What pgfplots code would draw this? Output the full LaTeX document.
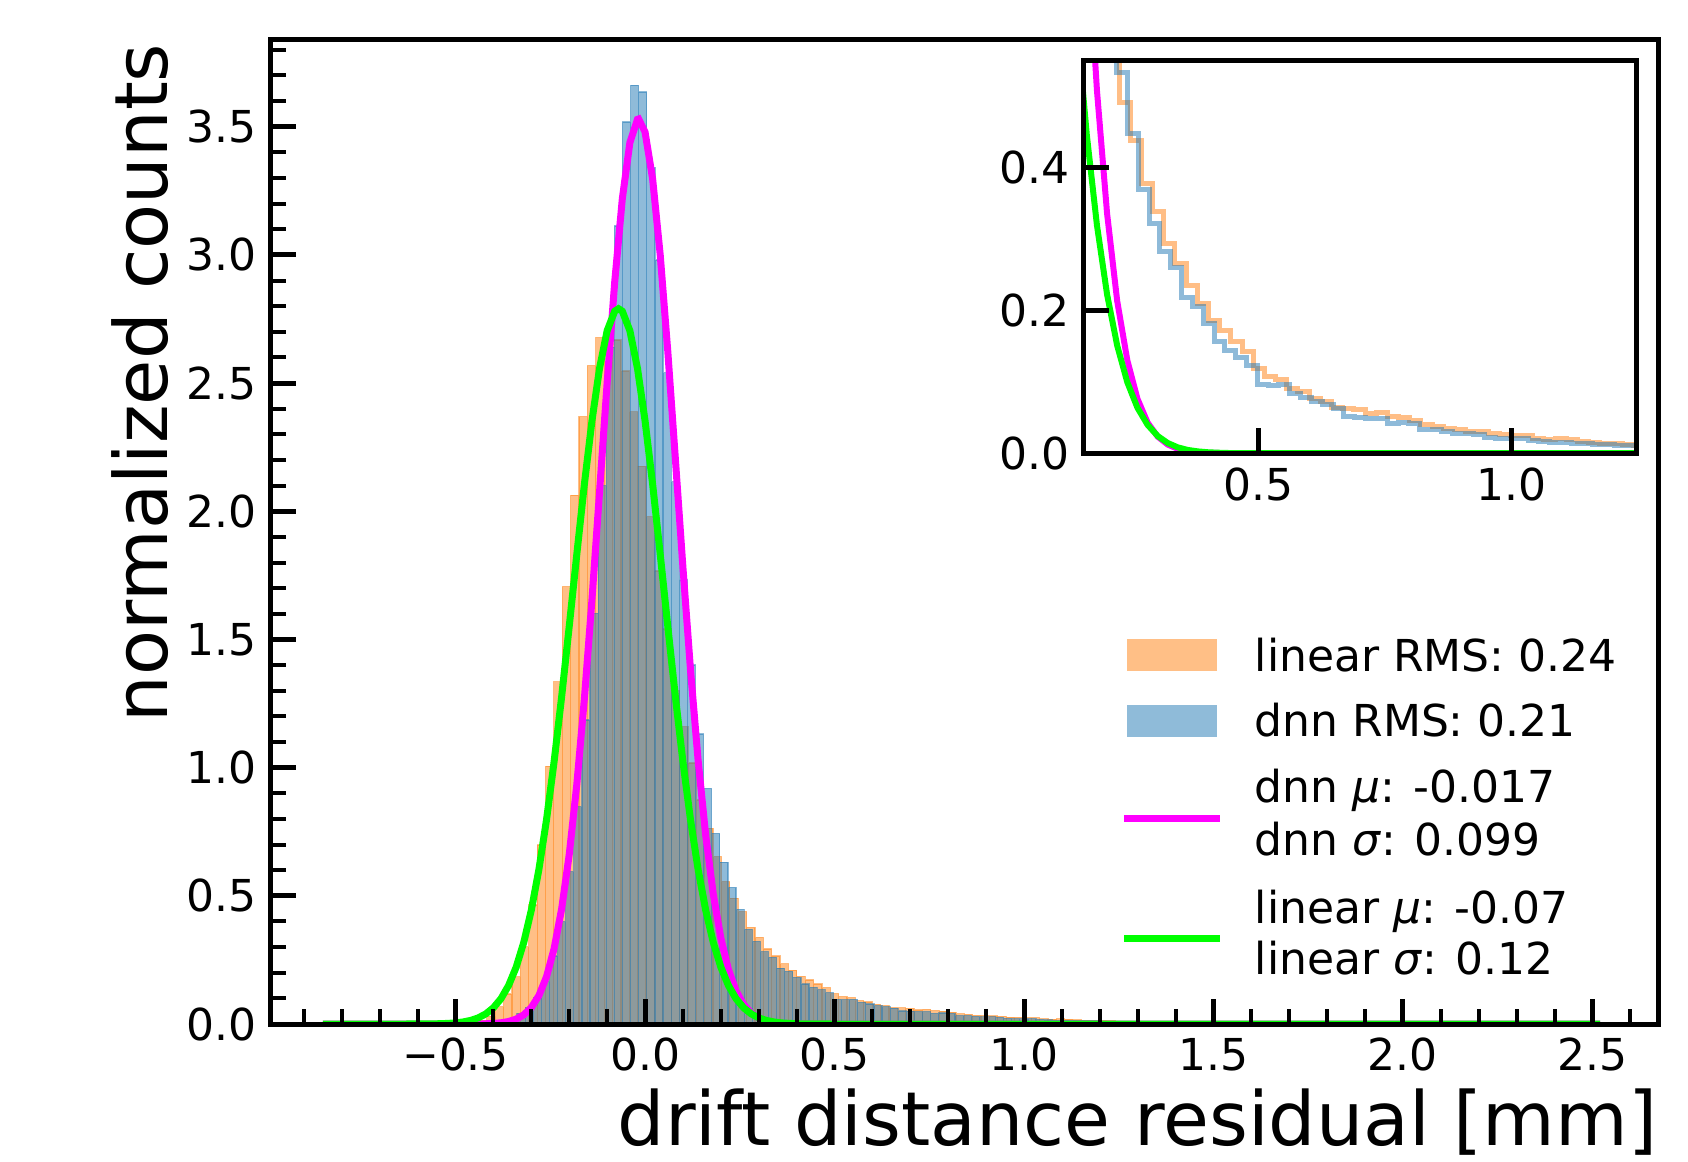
\documentclass[border=0pt]{standalone}
\usepackage{fontspec}
\setmainfont{DejaVu Sans}
\usepackage{pgfplots}
\usepackage{pgfplotstable}
\pgfplotsset{compat=1.18}

\definecolor{mplorange}{HTML}{FF7F0E}
\definecolor{mplblue}{HTML}{1F77B4}
\definecolor{fitdnn}{HTML}{FF00FF}
\definecolor{fitlin}{HTML}{00FF00}

\newcommand{\tickfont}{\fontsize{11}{12.9}\selectfont}
\newcommand{\labelfont}{\fontsize{18.4}{22}\selectfont}
\newcommand{\xlabelfont}{\fontsize{18.65}{22}\selectfont}

% histograms: left bin edge, normalized count
\pgfplotstableread{
x y
-0.5057 0.002
-0.4836 0.004
-0.4615 0.008
-0.4394 0.015
-0.4173 0.030
-0.3952 0.067
-0.3731 0.117
-0.3510 0.184
-0.3289 0.301
-0.3068 0.464
-0.2847 0.698
-0.2626 1.006
-0.2405 1.335
-0.2184 1.706
-0.1963 2.063
-0.1742 2.369
-0.1521 2.568
-0.1300 2.677
-0.1079 2.660
-0.0858 2.668
-0.0637 2.547
-0.0416 2.388
-0.0195 2.176
0.0026 1.979
0.0247 1.767
0.0468 1.541
0.0689 1.300
0.0910 1.160
0.1131 1.018
0.1352 0.874
0.1573 0.764
0.1794 0.653
0.2015 0.555
0.2236 0.491
0.2457 0.438
0.2678 0.377
0.2899 0.338
0.3120 0.293
0.3341 0.265
0.3562 0.235
0.3783 0.210
0.4004 0.186
0.4225 0.172
0.4446 0.156
0.4667 0.142
0.4888 0.119
0.5109 0.107
0.5330 0.103
0.5551 0.091
0.5772 0.086
0.5993 0.077
0.6214 0.072
0.6435 0.064
0.6656 0.063
0.6877 0.061
0.7098 0.055
0.7319 0.057
0.7540 0.052
0.7761 0.050
0.7982 0.046
0.8203 0.040
0.8424 0.038
0.8645 0.034
0.8866 0.033
0.9087 0.031
0.9308 0.030
0.9529 0.027
0.9750 0.026
0.9971 0.025
1.0192 0.025
1.0413 0.020
1.0634 0.019
1.0855 0.020
1.1076 0.019
1.1297 0.016
1.1518 0.015
1.1739 0.014
1.1960 0.014
1.2181 0.012
1.2402 0.011
1.2623 0.010
1.2844 0.009
1.3065 0.008
1.3286 0.008
1.3507 0.007
1.3728 0.006
1.3949 0.005
1.4170 0.005
1.4391 0.004
1.4612 0.003
1.4833 0
}\linhist

\pgfplotstableread{
x y
-0.4447 0.001
-0.4233 0.003
-0.4019 0.006
-0.3805 0.012
-0.3591 0.023
-0.3377 0.042
-0.3163 0.065
-0.2949 0.104
-0.2735 0.165
-0.2521 0.265
-0.2307 0.399
-0.2093 0.594
-0.1879 0.848
-0.1665 1.186
-0.1451 1.602
-0.1237 2.100
-0.1023 2.640
-0.0809 3.113
-0.0595 3.518
-0.0381 3.662
-0.0167 3.635
0.0047 3.340
0.0261 2.980
0.0475 2.540
0.0689 2.115
0.0903 1.732
0.1117 1.400
0.1331 1.131
0.1545 0.919
0.1759 0.744
0.1973 0.631
0.2187 0.533
0.2401 0.447
0.2615 0.369
0.2829 0.322
0.3043 0.282
0.3257 0.260
0.3471 0.218
0.3685 0.205
0.3899 0.182
0.4113 0.156
0.4327 0.143
0.4541 0.134
0.4755 0.122
0.4969 0.096
0.5183 0.095
0.5397 0.096
0.5611 0.084
0.5825 0.078
0.6039 0.072
0.6253 0.068
0.6467 0.062
0.6681 0.051
0.6895 0.050
0.7109 0.048
0.7323 0.048
0.7537 0.042
0.7751 0.043
0.7965 0.042
0.8179 0.033
0.8393 0.033
0.8607 0.030
0.8821 0.028
0.9035 0.028
0.9249 0.026
0.9463 0.022
0.9677 0.021
0.9891 0.021
1.0105 0.021
1.0319 0.018
1.0533 0.016
1.0747 0.015
1.0961 0.015
1.1175 0.014
1.1389 0.013
1.1603 0.012
1.1817 0.012
1.2031 0.011
1.2245 0.011
1.2459 0.010
1.2673 0.009
1.2887 0.008
1.3101 0.008
1.3315 0.007
1.3529 0.006
1.3743 0.006
1.3957 0.005
1.4171 0.005
1.4385 0.004
1.4599 0.004
1.4813 0
}\dnnhist

% gaussian fits
\pgfplotstableread{
x y
-0.85 0
-0.50 0
-0.44 0.0003
-0.42 0.0010
-0.40 0.0023
-0.38 0.0049
-0.36 0.0098
-0.34 0.0192
-0.32 0.0358
-0.30 0.0644
-0.28 0.1111
-0.26 0.1844
-0.24 0.2938
-0.22 0.4497
-0.20 0.6614
-0.18 0.9351
-0.16 1.2697
-0.14 1.6567
-0.12 2.0768
-0.10 2.5013
-0.08 2.8946
-0.06 3.2183
-0.04 3.4379
-0.02 3.5284
-0.017 3.53
0.00 3.4794
0.02 3.2965
0.04 3.0007
0.06 2.6244
0.08 2.2052
0.10 1.7804
0.12 1.3810
0.14 1.0293
0.16 0.7370
0.18 0.5070
0.20 0.3351
0.22 0.2128
0.24 0.1299
0.26 0.0761
0.28 0.0429
0.30 0.0232
0.32 0.0121
0.34 0.0060
0.36 0.0029
0.38 0.0013
0.40 0.0006
0.42 0.0003
0.50 0
2.52 0
}\dnnfit

\pgfplotstableread{
x y
-0.85 0
-0.66 0
-0.60 0.0002
-0.58 0.0003
-0.56 0.0007
-0.54 0.0013
-0.52 0.0025
-0.50 0.0045
-0.48 0.0081
-0.46 0.0142
-0.44 0.0241
-0.42 0.0397
-0.40 0.0636
-0.38 0.0991
-0.36 0.1505
-0.34 0.2220
-0.32 0.3186
-0.30 0.4445
-0.28 0.6034
-0.26 0.7966
-0.24 1.0228
-0.22 1.2773
-0.20 1.5516
-0.18 1.8329
-0.16 2.1060
-0.14 2.3535
-0.12 2.5580
-0.10 2.7042
-0.08 2.7803
-0.07 2.79
-0.06 2.7803
-0.04 2.7042
-0.02 2.5580
0.00 2.3535
0.02 2.1060
0.04 1.8329
0.06 1.5516
0.08 1.2773
0.10 1.0228
0.12 0.7966
0.14 0.6034
0.16 0.4445
0.18 0.3186
0.20 0.2220
0.22 0.1505
0.24 0.0991
0.26 0.0636
0.28 0.0397
0.30 0.0241
0.32 0.0142
0.34 0.0081
0.36 0.0045
0.38 0.0025
0.40 0.0013
0.42 0.0007
0.44 0.0003
0.46 0.0002
0.52 0
2.52 0
}\linfit

\pgfplotsset{
  resaxis/.style={
    scale only axis,
    axis on top,
    axis line style={line width=1.25pt},
    tick align=inside,
    tick pos=left,
    major tick length=6.25pt,
    minor tick length=3.75pt,
    major tick style={line width=1.25pt, black},
    minor tick style={line width=1pt, black},
    ticklabel style={font=\tickfont},
  },
}

\begin{document}
\begin{tikzpicture}
\begin{axis}[
  resaxis,
  name=main,
  at={(0,0)}, anchor=south west,
  width=346.75pt, height=246.25pt,
  xmin=-0.987, xmax=2.673,
  ymin=0, ymax=3.842,
  xtick={-0.5,0,0.5,1,1.5,2,2.5},
  xticklabels={−0.5,0.0,0.5,1.0,1.5,2.0,2.5},
  minor xtick={-0.9,-0.8,-0.7,-0.6,-0.4,-0.3,-0.2,-0.1,0.1,0.2,0.3,0.4,0.6,0.7,0.8,0.9,1.1,1.2,1.3,1.4,1.6,1.7,1.8,1.9,2.1,2.2,2.3,2.4,2.6},
  ytick={0,0.5,1,1.5,2,2.5,3,3.5},
  yticklabels={0.0,0.5,1.0,1.5,2.0,2.5,3.0,3.5},
  minor ytick={0.1,0.2,0.3,0.4,0.6,0.7,0.8,0.9,1.1,1.2,1.3,1.4,1.6,1.7,1.8,1.9,2.1,2.2,2.3,2.4,2.6,2.7,2.8,2.9,3.1,3.2,3.3,3.4,3.6,3.7,3.8},
  xlabel={drift distance residual [mm]},
  ylabel={normalized counts},
  every axis x label/.style={at={(rel axis cs:1,-0.0995)}, anchor=east, font=\xlabelfont, inner sep=0pt},
  every axis y label/.style={at={(rel axis cs:-0.0944,0.996)}, rotate=90, anchor=east, font=\labelfont, inner sep=0pt},
]
\addplot[ybar interval, fill=mplorange, fill opacity=0.5, draw=mplorange, draw opacity=0.5, line width=0.3pt]
  table {\linhist};
\addplot[ybar interval, fill=mplblue, fill opacity=0.5, draw=mplblue, draw opacity=0.5, line width=0.3pt]
  table {\dnnhist};
\addplot[fitdnn, line width=1.75pt] table {\dnnfit};
\addplot[fitlin, line width=1.75pt] table {\linfit};

% legend
\fill[mplorange, fill opacity=0.5] (rel axis cs:0.6172,0.3746) ++(0pt,-4pt) rectangle ++(22.5pt,8pt);
\fill[mplblue, fill opacity=0.5] (rel axis cs:0.6172,0.3078) ++(0pt,-4pt) rectangle ++(22.5pt,8pt);
\draw[fitdnn, line width=1.67pt] (rel axis cs:0.6153,0.2088) -- ++(24pt,0pt);
\draw[fitlin, line width=1.67pt] (rel axis cs:0.6153,0.0870) -- ++(24pt,0pt);
\begin{scope}[every node/.style={anchor=base west, inner sep=0pt, font=\tickfont}]
\node at (rel axis cs:0.7087,0.3579) {linear RMS: 0.24};
\node at (rel axis cs:0.7087,0.2922) {dnn RMS: 0.21};
\node at (rel axis cs:0.7087,0.2247) {dnn \textit{μ}: -0.017};
\node at (rel axis cs:0.7087,0.1714) {dnn \textit{σ}: 0.099};
\node at (rel axis cs:0.7087,0.1025) {linear \textit{μ}: -0.07};
\node at (rel axis cs:0.7087,0.0498) {linear \textit{σ}: 0.12};
\end{scope}
\end{axis}

\begin{axis}[
  resaxis,
  at={(203.2pt,142.7pt)}, anchor=south west,
  width=138.25pt, height=98.3pt,
  xmin=0.154, xmax=1.247,
  ymin=0, ymax=0.55,
  xtick={0.5,1}, xticklabels={0.5,1.0},
  ytick={0,0.2,0.4}, yticklabels={0.0,0.2,0.4},
  axis background/.style={fill=white},
]
\addplot[const plot, draw=mplorange, draw opacity=0.5, line width=1.25pt] table {\linhist};
\addplot[const plot, draw=mplblue, draw opacity=0.5, line width=1.25pt] table {\dnnhist};
\addplot[fitdnn, line width=1.5pt] table {\dnnfit};
\addplot[fitlin, line width=1.5pt] table {\linfit};
\end{axis}

\path (-67.75pt,-34.25pt) rectangle (354.25pt,256pt);
\end{tikzpicture}
\end{document}
